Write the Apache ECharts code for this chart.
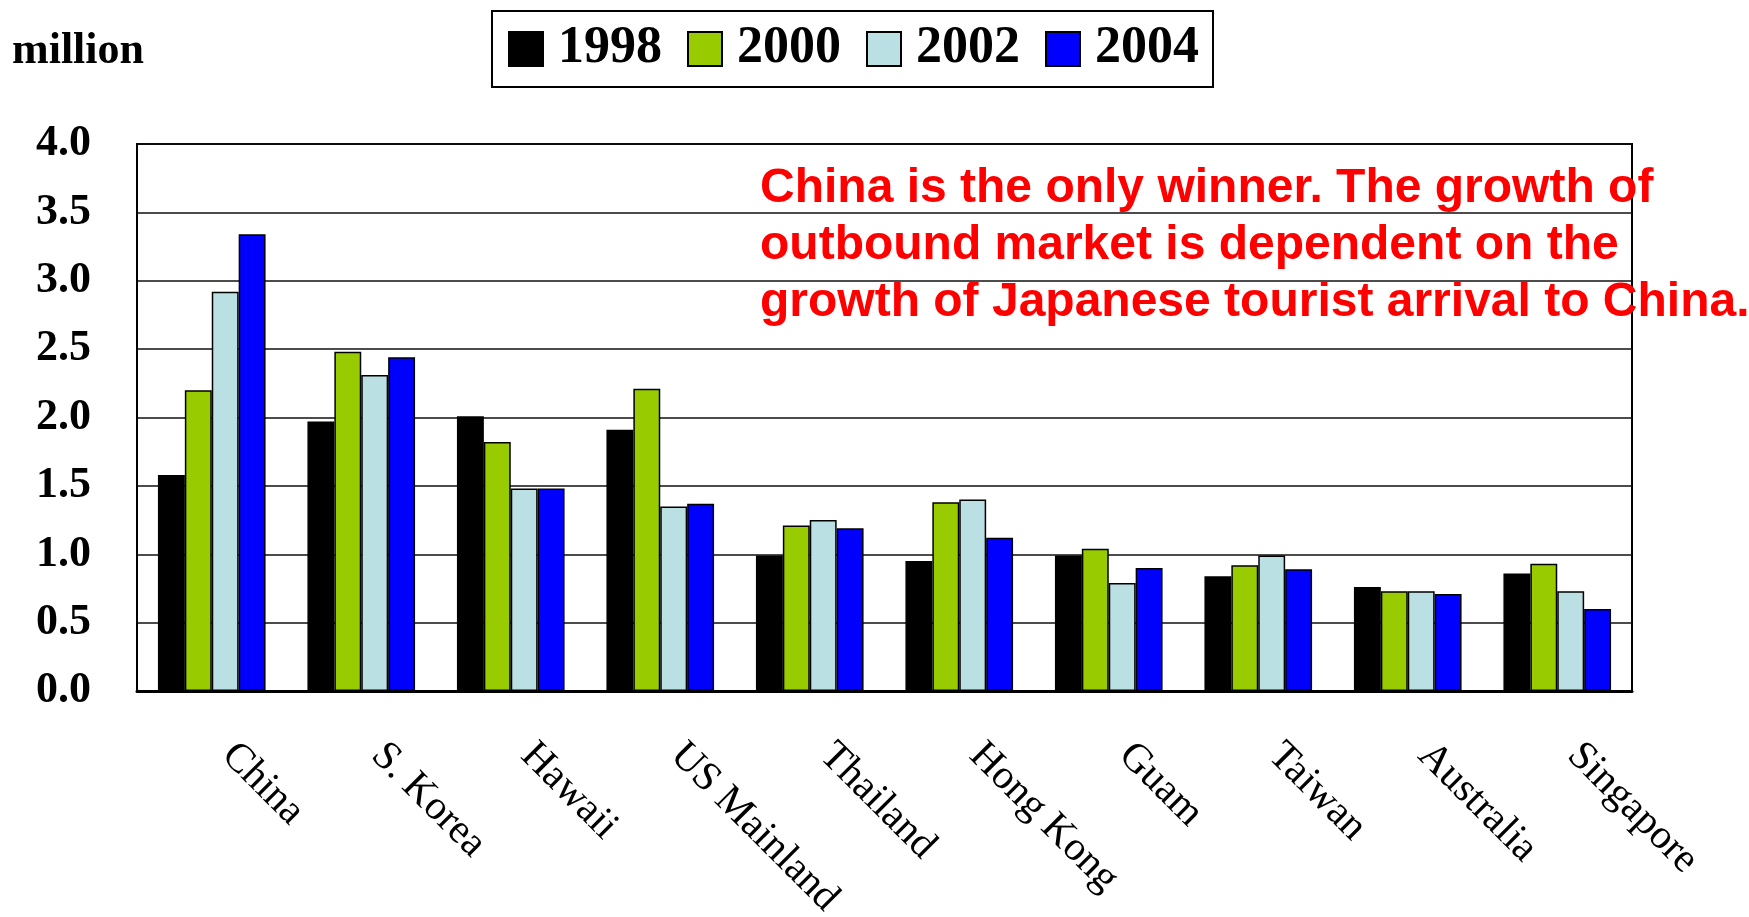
<!DOCTYPE html>
<html>
<head>
<meta charset="utf-8">
<title>Japanese outbound travellers by destination</title>
<script src="https://cdn.jsdelivr.net/npm/echarts@6/dist/echarts.min.js"></script>
<style>
  html, body { margin: 0; padding: 0; background: #fff; }
  #chart { width: 1749px; height: 917px; }
</style>
</head>
<body>
<div id="chart"></div>
<script>
// Destinations (category axis)
const destinations = ['China', 'S. Korea', 'Hawaii', 'US Mainland', 'Thailand',
  'Hong Kong', 'Guam', 'Taiwan', 'Australia', 'Singapore'];

// Japanese visitor arrivals, million
const years = ['1998', '2000', '2002', '2004'];
const v1998 = [1.58, 1.97, 2.01, 1.91, 0.99, 0.95, 0.99, 0.84, 0.76, 0.86];
const v2000 = [2.20, 2.48, 1.82, 2.21, 1.21, 1.38, 1.04, 0.92, 0.73, 0.93];
const v2002 = [2.92, 2.31, 1.48, 1.35, 1.25, 1.40, 0.79, 0.99, 0.73, 0.73];
const v2004 = [3.34, 2.44, 1.48, 1.37, 1.19, 1.12, 0.90, 0.89, 0.71, 0.60];

// Value axis ticks
const yMin = 0, yMax = 4, yStep = 0.5;

const noteLines = [
  'China is the only winner. The growth of',
  'outbound market is dependent on the',
  'growth of Japanese tourist arrival to China.'
];

const seriesValues = [v1998, v2000, v2002, v2004];
const seriesColors = ['#000000', '#99CC00', '#BAE0E3', '#0000FF'];

const serif = '"Liberation Serif", "Times New Roman", serif';

const chart = echarts.init(document.getElementById('chart'), null, { renderer: 'canvas' });

chart.setOption({
  animation: false,
  backgroundColor: '#ffffff',
  title: {
    text: 'million',
    left: 12,
    top: 30,
    padding: 0,
    textStyle: { fontFamily: serif, fontWeight: 'bold', fontSize: 44, color: '#000' }
  },
  legend: {
    left: 492,
    top: 11,
    data: years,
    icon: 'rect',
    itemWidth: 34,
    itemHeight: 34,
    itemGap: 25,
    padding: [8, 14, 8, 16],
    borderColor: '#000',
    borderWidth: 2,
    textStyle: {
      fontFamily: serif, fontWeight: 'bold', fontSize: 52, color: '#000',
      lineHeight: 56, padding: [4, 0, 0, 10]
    }
  },
  grid: {
    left: 137,
    right: 117,
    top: 144,
    bottom: 226,
    outerBoundsMode: 'none',
    show: true,
    borderColor: '#000',
    borderWidth: 2,
    backgroundColor: '#fff'
  },
  xAxis: {
    type: 'category',
    data: destinations,
    boundaryGap: true,
    axisLine: { lineStyle: { color: '#000', width: 3 } },
    axisTick: { inside: true, length: 9, lineStyle: { color: '#000', width: 2 } },
    axisLabel: {
      interval: 0,
      rotate: -45,
      margin: 42,
      padding: [0, 0, 0, 23],
      fontFamily: serif,
      fontSize: 41,
      color: '#000'
    },
    splitLine: { show: false }
  },
  yAxis: {
    type: 'value',
    min: yMin,
    max: yMax,
    interval: yStep,
    axisLine: { show: true, lineStyle: { color: '#000', width: 2 } },
    axisTick: { show: false },
    axisLabel: {
      margin: 46,
      fontFamily: serif,
      fontWeight: 'bold',
      fontSize: 44,
      color: '#000',
      formatter: v => v.toFixed(1)
    },
    splitLine: { lineStyle: { color: '#111', width: 1.5 } }
  },
  series: years.map((y, i) => ({
    name: y,
    type: 'bar',
    data: seriesValues[i],
    barGap: '0%',
    barCategoryGap: '28%',
    itemStyle: { color: seriesColors[i], borderColor: '#000', borderWidth: 1.5 }
  })),
  graphic: [{
    type: 'text',
    left: 760,
    top: 160,
    z: 100,
    style: {
      text: noteLines.join('\n'),
      fontFamily: '"Liberation Sans", Arial, sans-serif',
      fontWeight: 'bold',
      fontSize: 48,
      lineHeight: 57,
      fill: '#FF0000',
      textShadowColor: 'rgba(120,120,120,0.6)',
      textShadowOffsetX: 3,
      textShadowOffsetY: 3,
      textShadowBlur: 0
    }
  }]
});
</script>
</body>
</html>
